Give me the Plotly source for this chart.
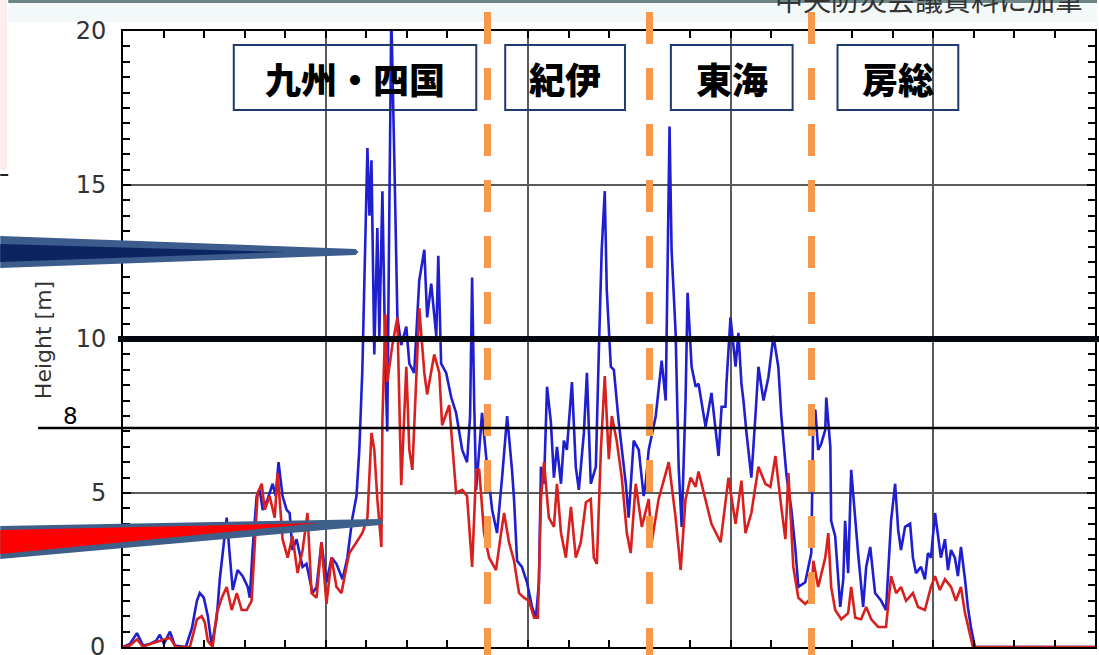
import plotly.graph_objects as go

# Distance along the coast [km] and tsunami height [m]
blue_km = [0, 3.4, 6.9, 9.9, 13.3, 16.3, 18.2, 20.2, 23.2, 25.6,
           31.0, 34.0, 36.5, 37.9, 39.9, 41.9, 43.8, 46.3, 47.8, 49.3,
           51.2, 52.7, 54.2, 56.6, 59.1, 61.6, 62.6, 64.0, 66.0, 67.5,
           69.0, 71.4, 73.9, 75.4, 76.8, 78.8, 80.8, 82.3, 83.7, 85.7,
           88.7, 90.6, 92.1, 93.6, 95.6, 98.0, 100.5, 103.0, 105.4, 108.4,
           110.8, 113.3, 115.3, 116.7, 118.2, 119.2, 120.7, 121.7, 122.7, 124.1,
           125.6, 126.6, 128.1, 129.6, 130.5, 131.5, 132.5, 134.0, 135.5, 137.4,
           139.9, 141.4, 143.8, 146.3, 148.8, 150.2, 152.2, 154.7, 155.7, 157.1,
           159.6, 162.1, 164.5, 167.5, 169.9, 171.4, 172.4, 173.4, 174.4, 177.3,
           179.3, 182.3, 184.7, 187.2, 189.7, 192.1, 193.1, 194.6, 197.0, 199.5,
           202.0, 203.9, 205.4, 206.4, 207.9, 209.4, 211.3, 212.8, 214.3, 216.3,
           217.7, 219.2, 221.7, 223.6, 225.1, 227.6, 229.1, 231.0, 233.5, 235.0,
           236.4, 237.9, 238.9, 240.9, 242.4, 244.8, 248.3, 249.7, 252.2, 254.7,
           257.1, 258.1, 259.6, 263.1, 266.0, 268.0, 269.9, 270.9, 272.9, 274.4,
           275.9, 277.8, 278.8, 280.8, 282.8, 284.2, 287.7, 290.6, 294.1, 295.6,
           297.5, 298.0, 300.0, 302.5, 303.9, 305.4, 306.4, 307.9, 308.9, 310.3,
           312.3, 313.8, 316.3, 318.7, 321.2, 323.6, 325.1, 327.6, 330.0, 332.0,
           333.5, 336.9, 339.9, 340.9, 341.9, 343.3, 344.8, 346.8, 347.3, 349.3,
           349.7, 351.7, 354.2, 355.7, 356.6, 358.1, 359.6, 361.6, 363.0, 365.5,
           367.0, 369.0, 371.4, 374.4, 376.8, 379.3, 381.3, 382.8, 384.2, 386.2,
           388.7, 390.1, 391.6, 394.1, 396.0, 397.5, 399.0, 401.0, 402.5, 403.9,
           405.9, 407.4, 408.9, 410.8, 412.3, 413.8, 415.8, 417.2, 418.7, 420.7,
           480]
blue_m = [0, 0.1, 0.45, 0.05, 0.1, 0.2, 0.4, 0.1, 0.5, 0.05,
          0, 0.6, 1.5, 1.75, 1.6, 1.0, 0.05, 0.95, 2.2, 3.15,
          4.2, 3.0, 1.85, 2.5, 2.3, 1.95, 1.6, 3.15, 4.9, 5.1,
          4.45, 4.8, 5.3, 4.9, 6.0, 4.9, 4.45, 4.35, 3.15, 3.5,
          2.6, 2.7, 2.2, 1.75, 1.95, 3.4, 2.1, 2.9, 2.7, 2.2,
          2.9, 4.2, 4.9, 6.4, 9.0, 11.9, 16.2, 14.0, 15.8, 9.5,
          13.6, 10.1, 14.8, 9.0, 7.0, 14.0, 20.5, 15.8, 10.7, 9.8,
          10.4, 9.2, 8.9, 11.9, 12.9, 10.7, 11.8, 10.1, 12.7, 9.2,
          8.9, 8.1, 7.6, 6.4, 6.0, 7.5, 12.0, 8.0, 5.1, 7.6,
          6.2, 4.45, 3.7, 5.5, 7.5, 5.75, 4.8, 2.8, 2.6, 2.1,
          1.3, 0.95, 2.1, 5.85, 5.3, 8.45, 7.3, 5.5, 6.5, 5.3,
          6.7, 6.4, 8.6, 5.85, 5.1, 6.95, 8.9, 5.3, 5.85, 9.65,
          12.9, 14.8, 11.6, 9.1, 9.0, 7.3, 5.3, 4.2, 6.7, 6.4,
          4.9, 5.3, 6.4, 7.5, 9.3, 8.0, 16.9, 12.9, 10.2, 5.85,
          3.9, 8.0, 11.5, 9.1, 8.45, 8.55, 7.15, 8.25, 6.2, 7.8,
          7.8, 8.55, 10.7, 9.1, 10.2, 8.55, 8.0, 6.95, 6.4, 5.5,
          7.5, 9.1, 8.0, 8.75, 10.1, 9.1, 7.5, 5.6, 4.5, 3.2,
          1.95, 2.1, 3.05, 7.6, 7.7, 6.4, 6.6, 7.05, 8.1, 6.5,
          4.1, 3.6, 1.3, 2.2, 4.1, 2.4, 5.75, 4.0, 3.05, 1.3,
          2.6, 3.25, 1.75, 1.5, 1.2, 4.1, 5.3, 3.8, 3.15, 3.9,
          4.0, 2.9, 2.4, 2.6, 2.2, 3.05, 2.9, 4.35, 3.6, 2.9,
          3.5, 2.5, 3.15, 2.9, 2.3, 3.25, 2.2, 1.3, 0.65, 0,
          0]

red_km = [0, 3.4, 6.9, 9.9, 13.3, 18.2, 23.2, 26.1, 33.0, 35.0,
          36.5, 38.9, 40.4, 41.9, 44.3, 46.3, 48.8, 51.2, 53.7, 56.2,
          58.6, 61.1, 63.5, 65.0, 66.5, 68.5, 70.0, 72.4, 74.9, 76.4,
          78.8, 81.3, 83.7, 86.2, 88.7, 91.1, 93.1, 95.6, 98.0, 100.5,
          103.0, 105.4, 107.9, 110.3, 111.8, 115.3, 118.2, 120.7, 122.7, 124.1,
          125.6, 127.6, 128.1, 129.6, 130.5, 133.0, 135.5, 137.4, 139.9, 141.4,
          142.9, 146.3, 148.8, 150.2, 153.7, 156.2, 157.6, 161.1, 164.5, 167.5,
          169.9, 172.4, 174.4, 175.9, 178.3, 180.8, 184.2, 186.7, 188.2, 190.6,
          193.1, 195.6, 198.0, 200.5, 203.0, 204.9, 206.4, 207.9, 210.3, 212.8,
          214.3, 216.3, 218.7, 221.2, 223.6, 226.1, 228.6, 231.0, 232.5, 234.0,
          236.0, 237.9, 239.9, 241.4, 243.8, 246.3, 248.8, 250.7, 253.2, 256.2,
          259.6, 261.1, 264.5, 269.5, 272.9, 275.4, 277.8, 280.3, 282.8, 284.2,
          287.7, 290.6, 295.1, 299.0, 302.5, 305.4, 307.4, 310.3, 313.8, 317.2,
          319.7, 322.2, 324.6, 327.1, 328.6, 331.0, 333.5, 336.9, 339.9, 340.9,
          343.3, 346.8, 348.3, 349.7, 351.7, 354.7, 358.1, 359.6, 361.6, 364.5,
          367.0, 369.5, 372.9, 376.8, 379.3, 381.8, 384.2, 386.7, 390.1, 392.6,
          396.0, 399.0, 401.0, 403.4, 405.9, 408.9, 411.3, 413.8, 415.8, 418.2,
          419.7, 480]
red_m = [0, 0.05, 0.25, 0.0, 0.1, 0.2, 0.3, 0, 0, 0.5,
         0.9, 1.0, 0.8, 0.2, 0, 1.1, 1.6, 1.95, 1.2, 1.75,
         1.2, 1.2, 1.5, 3.25, 5.0, 5.3, 4.45, 4.9, 4.2, 5.65,
         3.5, 2.9, 3.6, 2.4, 3.15, 4.35, 1.75, 1.6, 3.4, 1.4,
         2.9, 1.95, 1.75, 2.6, 3.05, 3.4, 3.7, 4.2, 6.95, 6.4,
         4.8, 3.25, 7.35, 10.8, 8.6, 9.8, 10.7, 5.25, 9.1, 6.4,
         5.75, 11.0, 8.9, 8.2, 9.5, 8.9, 7.2, 7.85, 5.0, 5.1,
         4.9, 2.6, 5.75, 5.75, 3.7, 2.9, 2.5, 3.7, 4.35, 3.4,
         2.8, 1.75, 1.6, 1.5, 0.95, 0.95, 4.8, 6.0, 4.2, 3.9,
         5.3, 3.7, 2.9, 4.55, 2.9, 3.4, 4.7, 4.8, 2.9, 2.7,
         6.4, 8.8, 6.1, 7.5, 6.7, 5.5, 3.7, 3.05, 5.3, 3.9,
         4.8, 3.4, 4.8, 6.0, 4.2, 2.5, 4.8, 5.5, 5.2, 5.7,
         4.8, 4.0, 3.4, 5.5, 4.0, 5.4, 3.7, 4.35, 5.85, 5.3,
         5.2, 6.2, 4.8, 3.5, 5.65, 2.6, 1.6, 1.4, 1.6, 2.8,
         1.95, 2.9, 3.7, 1.95, 1.2, 0.9, 1.1, 1.95, 0.95, 0.9,
         1.3, 0.9, 0.65, 0.65, 2.3, 1.75, 1.95, 1.5, 1.75, 1.3,
         1.2, 1.95, 2.3, 1.85, 2.2, 1.95, 1.5, 1.95, 1.1, 0.45,
         0, 0]

# Region names and the boundaries between them [km]
regions = ["九州・四国", "紀伊", "東海", "房総"]
boundary_km = [180, 260, 340]

source_note = "中央防災会議資料に加筆"
threshold_label = "8"

# ---- layout helpers: canvas pixels -> paper fractions ----
W, H = 1099, 655
ML, MR, MT, MB = 123, 2, 31, 8
PW, PH = W - ML - MR, H - MT - MB


def fx(px):
    return (px - ML) / PW


def fy(py):
    return (H - MB - py) / PH


fig = go.Figure()
fig.add_trace(go.Scatter(x=blue_km, y=blue_m, mode="lines",
                         line=dict(color="#1f1fd0", width=2.6),
                         hoverinfo="skip"))
fig.add_trace(go.Scatter(x=red_km, y=red_m, mode="lines",
                         line=dict(color="#d8201e", width=2.6),
                         hoverinfo="skip"))

shapes = []

# faint slide header band and left margin box
shapes.append(dict(type="rect", xref="paper", yref="paper",
                   x0=fx(8), x1=fx(W), y0=fy(3), y1=fy(22),
                   fillcolor="#f3f9f9", line=dict(width=0), layer="below"))
shapes.append(dict(type="rect", xref="paper", yref="paper",
                   x0=fx(8), x1=fx(W), y0=fy(0), y1=fy(3),
                   fillcolor="#6d8585", line=dict(width=0), layer="above"))
shapes.append(dict(type="rect", xref="paper", yref="paper",
                   x0=fx(0), x1=fx(7), y0=fy(0), y1=fy(170),
                   fillcolor="#fcecee", line=dict(width=0), layer="above"))
shapes.append(dict(type="line", xref="paper", yref="paper",
                   x0=fx(0), x1=fx(8), y0=fy(175), y1=fy(175),
                   line=dict(color="#222222", width=2), layer="above"))

# region boundaries
for b in boundary_km:
    shapes.append(dict(type="line", xref="x", yref="paper",
                       x0=b, x1=b, y0=fy(-44), y1=fy(H + 10),
                       line=dict(color="#f7994a", width=7, dash="32px,24px"),
                       layer="above"))

# reference lines drawn over the chart
shapes.append(dict(type="line", xref="paper", yref="y",
                   x0=fx(118), x1=fx(W + 2), y0=10, y1=10,
                   line=dict(color="#05070f", width=6), layer="above"))
shapes.append(dict(type="line", xref="paper", yref="paper",
                   x0=fx(38), x1=fx(W + 2), y0=fy(428), y1=fy(428),
                   line=dict(color="#000000", width=2.5), layer="above"))

# region label boxes
box_px = [(234, 477), (506, 626), (672, 794), (839, 960)]
box_top, box_bottom = 45, 110
for (bx0, bx1) in box_px:
    shapes.append(dict(type="rect", xref="paper", yref="paper",
                       x0=fx(bx0), x1=fx(bx1), y0=fy(box_bottom), y1=fy(box_top),
                       line=dict(color="#1f3a6e", width=2), layer="above"))


def poly(points):
    return "M " + " L ".join(f"{fx(a):.5f},{fy(b):.5f}" for a, b in points) + " Z"


# callout wedges
shapes.append(dict(type="path", xref="paper", yref="paper",
                   path=poly([(0, 236), (356, 249), (359, 252), (356, 255), (0, 268)]),
                   fillcolor="#3b5c8c", line=dict(width=0), layer="above"))
shapes.append(dict(type="path", xref="paper", yref="paper",
                   path=poly([(0, 244), (285, 252), (0, 262)]),
                   fillcolor="#0c2561", line=dict(width=0), layer="above"))
shapes.append(dict(type="path", xref="paper", yref="paper",
                   path=poly([(0, 526), (381, 519), (384, 522), (381, 525), (0, 559)]),
                   fillcolor="#3e5f8a", line=dict(width=0), layer="above"))
shapes.append(dict(type="path", xref="paper", yref="paper",
                   path=poly([(0, 530), (320, 523), (0, 554)]),
                   fillcolor="#ff0000", line=dict(width=0), layer="above"))

annotations = []
for name, (bx0, bx1) in zip(regions, box_px):
    annotations.append(dict(x=fx((bx0 + bx1) / 2), y=fy((box_top + box_bottom) / 2),
                            xref="paper", yref="paper", text=name, showarrow=False,
                            xanchor="center", yanchor="middle",
                            font=dict(family="Noto Sans CJK JP", size=36,
                                      color="#000000", weight=900)))

annotations.append(dict(x=fx(1087), y=fy(-1), xref="paper", yref="paper",
                        text=source_note, showarrow=False,
                        xanchor="right", yanchor="middle",
                        font=dict(family="Noto Sans CJK JP", size=28, color="#333333")))
annotations.append(dict(x=fx(70), y=fy(416), xref="paper", yref="paper",
                        text=threshold_label, showarrow=False,
                        xanchor="center", yanchor="middle",
                        font=dict(family="DejaVu Sans", size=23, color="#000000")))
annotations.append(dict(x=fx(43), y=fy(340), xref="paper", yref="paper",
                        text="Height [m]", showarrow=False, textangle=-90,
                        xanchor="center", yanchor="middle",
                        font=dict(family="DejaVu Sans", size=22, color="#333333")))
# bottom tick label sits on the page edge
annotations.append(dict(x=fx(107), y=0, xref="paper", yref="paper",
                        text="0", showarrow=False,
                        xanchor="right", yanchor="middle",
                        font=dict(family="DejaVu Sans", size=24, color="#333333")))

fig.update_layout(
    width=W, height=H,
    margin=dict(l=ML, r=MR, t=MT, b=MB),
    paper_bgcolor="white", plot_bgcolor="white",
    showlegend=False,
    shapes=shapes, annotations=annotations,
    xaxis=dict(range=[0, 480], dtick=100, tick0=0,
               showgrid=True, gridcolor="#5a5a5a", gridwidth=2,
               ticks="inside", ticklen=7, tickwidth=2, tickcolor="black",
               showticklabels=False, zeroline=False,
               showline=True, linecolor="black", linewidth=2, mirror="allticks",
               minor=dict(dtick=20, ticks="inside", ticklen=7, tickwidth=2,
                          tickcolor="black", showgrid=False)),
    yaxis=dict(range=[0, 20], dtick=5, tick0=0,
               showgrid=True, gridcolor="#5a5a5a", gridwidth=2,
               ticks="inside", ticklen=8, tickwidth=2, tickcolor="black",
               tickfont=dict(family="DejaVu Sans", size=24, color="#333333"),
               ticklabelstandoff=10, zeroline=False,
               showline=True, linecolor="black", linewidth=2, mirror="allticks",
               minor=dict(dtick=0.5, ticks="inside", ticklen=7, tickwidth=2,
                          tickcolor="black", showgrid=False)),
)

fig.write_html("out.html")
